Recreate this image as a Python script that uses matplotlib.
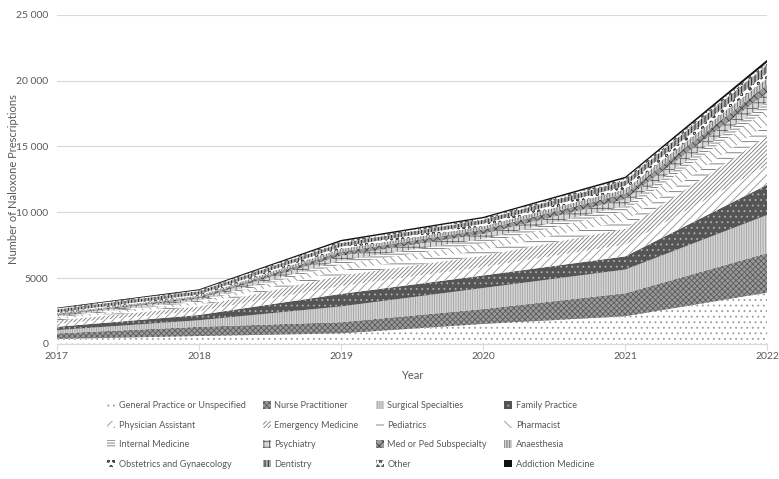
import numpy as np
import matplotlib
matplotlib.use("Agg")
import matplotlib.pyplot as plt
from matplotlib.patches import Patch
from matplotlib.ticker import FuncFormatter

plt.rcParams['font.family'] = ['Lato', 'DejaVu Sans']
plt.rcParams['hatch.linewidth'] = 0.6

years = [2017, 2018, 2019, 2020, 2021, 2022]

specialties = ['General Practice or Unspecified', 'Nurse Practitioner', 'Surgical Specialties',
               'Family Practice', 'Physician Assistant', 'Emergency Medicine', 'Pediatrics',
               'Pharmacist', 'Internal Medicine', 'Psychiatry', 'Med or Ped Subspecialty',
               'Anaesthesia', 'Obstetrics and Gynaecology', 'Dentistry', 'Other',
               'Addiction Medicine']

# prescriptions per year, one list per specialty (stacked bottom to top)
general_practice = [380, 600, 800, 1520, 2100, 3900]
nurse_practitioner = [420, 700, 850, 1130, 1750, 3000]
surgical = [250, 500, 1200, 1600, 1800, 2900]
family_practice = [250, 400, 950, 950, 1000, 2300]
physician_assistant = [230, 300, 600, 650, 900, 1500]
emergency_medicine = [250, 350, 800, 850, 1200, 2200]
pediatrics = [100, 150, 400, 450, 600, 900]
pharmacist = [120, 180, 450, 500, 750, 1100]
internal_medicine = [90, 120, 300, 330, 400, 600]
psychiatry = [100, 150, 350, 380, 500, 700]
med_ped = [80, 120, 300, 330, 420, 600]
anaesthesia = [70, 100, 220, 250, 330, 500]
obgyn = [60, 90, 170, 190, 260, 400]
dentistry = [220, 250, 280, 300, 400, 600]
other = [80, 70, 120, 120, 170, 200]
addiction = [50, 70, 110, 100, 120, 200]

series = [general_practice, nurse_practitioner, surgical, family_practice,
          physician_assistant, emergency_medicine, pediatrics, pharmacist,
          internal_medicine, psychiatry, med_ped, anaesthesia, obgyn,
          dentistry, other, addiction]

# fill colour, hatch pattern, hatch colour for each band
styles = [
    ('white', '...', '#9a9a9a'),
    ('#9a9a9a', 'xxxxxx', '#5a5a5a'),
    ('#d6d6d6', '|||||||', '#a0a0a0'),
    ('#555555', '...', '#b0b0b0'),
    ('white', '////', '#909090'),
    ('white', '////////', '#7a7a7a'),
    ('white', '---', '#707070'),
    ('white', '\\\\\\\\', '#909090'),
    ('white', '------', '#707070'),
    ('#d8d8d8', '+++', '#606060'),
    ('#9a9a9a', 'xxxx', '#444444'),
    ('#d0d0d0', '||||||', '#6a6a6a'),
    ('white', 'ooo', '#444444'),
    ('#aaaaaa', '|||||', '#1a1a1a'),
    ('white', '***', '#555555'),
    ('#111111', '', '#111111'),
]

fig = plt.figure(figsize=(7.79, 4.79), dpi=100)
ax = fig.add_axes([0.073, 0.282, 0.912, 0.687])

data = np.array(series, dtype=float)
tops = np.cumsum(data, axis=0)
bottom = np.zeros(len(years))
handles = []
for i, name in enumerate(specialties):
    face, hatch, hcol = styles[i]
    ax.fill_between(years, bottom, tops[i], facecolor=face, hatch=hatch,
                    edgecolor=hcol, linewidth=0)
    bottom = tops[i]
    handles.append(Patch(facecolor=face, hatch=hatch, edgecolor=hcol,
                         linewidth=0, label=name))

ax.set_xlim(2017, 2022)
ax.set_ylim(0, 25000)
ax.set_yticks(range(0, 25001, 5000))
ax.yaxis.set_major_formatter(FuncFormatter(
    lambda v, p: f'{int(v):,}'.replace(',', ' ') if v >= 10000 else f'{int(v)}'))
ax.set_xticks(years)
ax.grid(axis='y', color='#d9d9d9', linewidth=0.8)
ax.set_axisbelow(True)
for s in ['top', 'right', 'left']:
    ax.spines[s].set_visible(False)
ax.spines['bottom'].set_color('#d9d9d9')
ax.tick_params(axis='y', length=0, colors='#595959', labelsize=7.5, pad=6)
ax.tick_params(axis='x', length=4, color='#d9d9d9', colors='#595959', labelsize=7.5, pad=2)
ax.set_xlabel('Year', color='#595959', fontsize=8, labelpad=6)
ax.set_ylabel('Number of Naloxone Prescriptions', color='#595959', fontsize=8)
ax.yaxis.set_label_coords(-0.054, 0.5)

# legend reads across rows, so reorder for matplotlib's column-first fill
order = [j + 4 * i for j in range(4) for i in range(4)]
fig.legend([handles[k] for k in order], [specialties[k] for k in order],
           loc='upper center', bbox_to_anchor=(0.45, 0.18), ncol=4,
           frameon=False, fontsize=6.6, labelcolor='#595959',
           handlelength=0.85, handleheight=0.85, handletextpad=0.4,
           columnspacing=1.9, labelspacing=1.16)

fig.savefig('out.png', dpi=100)
